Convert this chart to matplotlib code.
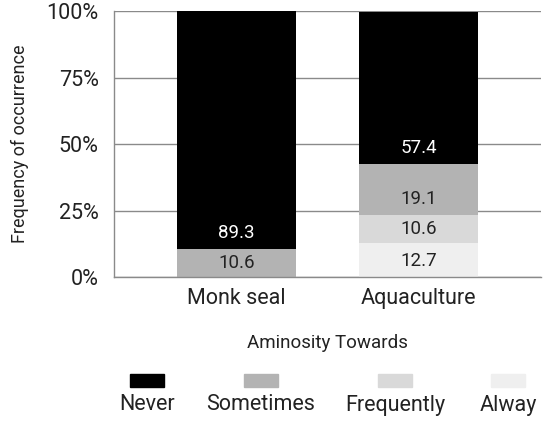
import numpy as np
import matplotlib.pyplot as plt
from matplotlib.patches import Rectangle

plt.rcParams["font.family"] = ["Roboto", "DejaVu Sans"]

# Data
groups = ["Monk seal", "Aquaculture"]
categories = ["Alway", "Frequently", "Sometimes", "Never"]  # bottom to top
always = [0.0, 12.7]
frequently = [0.0, 10.6]
sometimes = [10.6, 19.1]
never = [89.3, 57.4]
series = [always, frequently, sometimes, never]
colors = ["#efefef", "#d9d9d9", "#b3b3b3", "#000000"]
text_colors = ["#222222", "#222222", "#222222", "white"]
yticks = [0, 25, 50, 75, 100]
ytick_labels = ["0%", "25%", "50%", "75%", "100%"]

fig = plt.figure(figsize=(5.5, 4.24), dpi=100)
ax = fig.add_axes([0.2073, 0.3467, 0.7764, 0.6273])

x = np.arange(len(groups))
bottom = np.zeros(len(groups))
for vals, col, tcol in zip(series, colors, text_colors):
    vals = np.array(vals)
    ax.bar(x, vals, width=0.65, bottom=bottom, color=col, zorder=2)
    for xi, b, v in zip(x, bottom, vals):
        if v > 0:
            ax.text(xi, b + min(v / 2, 6.0), f"{v:.1f}", ha="center",
                    va="center", color=tcol, fontsize=13.5, zorder=3)
    bottom += vals

ax.set_xlim(-0.67, 1.67)
ax.set_ylim(0, 100)
ax.set_yticks(yticks)
ax.set_yticklabels(ytick_labels, fontsize=15.5, color="#222222")
ax.set_xticks(x)
ax.set_xticklabels(groups, fontsize=15.5, color="#222222")
ax.tick_params(axis="both", length=0)
ax.tick_params(axis="y", pad=11)
ax.tick_params(axis="x", pad=8)
ax.grid(axis="y", color="#8a8a8a", linewidth=1.0, zorder=1)
ax.spines["right"].set_visible(False)
ax.spines["top"].set_visible(False)
for side in ["left", "bottom"]:
    ax.spines[side].set_color("#8a8a8a")
    ax.spines[side].set_linewidth(1.0)
ax.spines["bottom"].set_zorder(4)

ax.set_xlabel("Aminosity Towards", fontsize=13.5, color="#222222", labelpad=18)
ax.set_ylabel("Frequency of occurrence", fontsize=13, color="#222222",
              labelpad=13)

# legend: swatch above label, drawn by hand
legend_x = [147, 261, 395, 508]
W, H = 550.0, 424.0
for lx, lab, col in zip(legend_x, categories[::-1], colors[::-1]):
    fig.patches.append(Rectangle(((lx - 17) / W, 1 - 387 / H), 34 / W, 13 / H,
                                 transform=fig.transFigure, color=col))
    fig.text(lx / W, 1 - 405 / H, lab, ha="center", va="center",
             fontsize=15.5, color="#222222")

plt.savefig("out.png", dpi=100)
